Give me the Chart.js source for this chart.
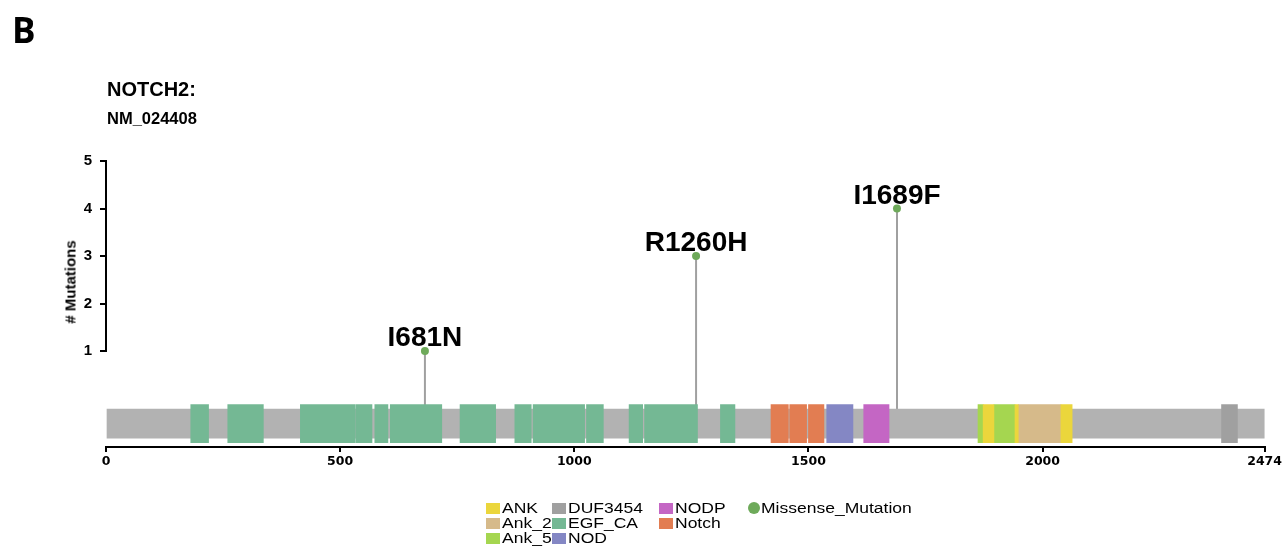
<!DOCTYPE html>
<html><head><meta charset="utf-8">
<script src="https://cdn.jsdelivr.net/npm/chart.js@4"></script>
<style>
html,body{margin:0;padding:0;background:#fff;}
#wrap{position:relative;width:1284px;height:551px;overflow:hidden;background:#fff;}
#c{position:absolute;left:0;top:0;}
.t{position:absolute;white-space:nowrap;color:#000;}
.lg{position:absolute;height:15px;white-space:nowrap;}
.lg .sw{position:absolute;left:0;top:2px;width:14px;height:11px;}
.lg .tx{position:absolute;left:16px;top:0;font:400 14px/15px "Liberation Sans",Arial,sans-serif;color:#000;transform:scaleX(1.25);transform-origin:0 0;}
</style></head><body>
<div id="wrap">
<canvas id="c" width="1284" height="551"></canvas>
<div class="t" style="left:12px;top:12px;font:700 35px/1 'Open Sans',sans-serif;">B</div>
<div class="t" style="left:107px;top:79px;font:700 20px/1 'Liberation Sans',Arial,sans-serif;">NOTCH2:</div>
<div class="t" style="left:107px;top:110px;font:700 16.5px/1 'Liberation Sans',Arial,sans-serif;">NM_024408</div>
<div class="t" style="left:69.5px;top:282px;font:700 15px/1 'Liberation Sans',Arial,sans-serif;transform:translate(-50%,-50%) rotate(-90deg);"># Mutations</div>
<div id="legend"></div>
</div>
<script>
// ---- data ----
const PROTEIN_LEN = 2474;
const xTicks = [0, 500, 1000, 1500, 2000, 2474];
const yTicks = [1, 2, 3, 4, 5];
const mutLabels = ['I681N', 'R1260H', 'I1689F'];
const mutPos = [681, 1260, 1689];
const mutCount = [1, 3, 4];

const domainNames = ['ANK', 'Ank_2', 'Ank_5', 'DUF3454', 'EGF_CA', 'NOD', 'NODP', 'Notch'];
const domainColors = ['#ebd63c', '#d6ba8a', '#a5d650', '#a0a0a0', '#74b894', '#8487c4', '#c466c4', '#e27d52'];
const ANK_ranges = [[1873, 1896], [1941, 1948], [2039, 2063]];
const Ank_2_ranges = [[1948, 2039]];
const Ank_5_ranges = [[1862, 1873], [1896, 1941]];
const DUF3454_ranges = [[2382, 2416]];
const EGF_CA_ranges = [[181, 219], [260, 336], [415, 531], [533, 568], [574, 602], [607, 717], [756, 832],
  [873, 908], [912, 1022], [1026, 1062], [1117, 1146], [1150, 1263], [1312, 1343]];
const NOD_ranges = [[1539, 1595]];
const NODP_ranges = [[1618, 1672]];
const Notch_ranges = [[1420, 1457], [1460, 1496], [1500, 1533]];
const domainRanges = [ANK_ranges, Ank_2_ranges, Ank_5_ranges, DUF3454_ranges, EGF_CA_ranges, NOD_ranges, NODP_ranges, Notch_ranges];

// ---- layout constants ----
const TRACK_Y = -0.53;
const STEM_BASE = -0.4;
const Y_MIN = -1.021;

const datasets = [];
datasets.push({
  type: 'scatter', label: 'Missense_Mutation', order: 0,
  data: mutPos.map((p, i) => ({x: p, y: mutCount[i]})),
  pointRadius: 4, pointHoverRadius: 4, backgroundColor: '#6eaa5a', borderWidth: 0
});
domainNames.forEach((n, k) => {
  datasets.push({
    type: 'bar', label: n, order: 1, indexAxis: 'y', grouped: false,
    data: domainRanges[k].map(r => ({x: r, y: TRACK_Y})),
    backgroundColor: domainColors[k], borderWidth: 0,
    barThickness: 38, maxBarThickness: 38
  });
});
datasets.push({
  type: 'bar', label: 'backbone', order: 2, indexAxis: 'y', grouped: false,
  data: [{x: [0, PROTEIN_LEN], y: TRACK_Y}],
  backgroundColor: '#b2b2b2', borderWidth: 0, barThickness: 29, maxBarThickness: 29
});
datasets.push({
  type: 'line', label: 'stems', order: 3,
  data: mutPos.flatMap((p, i) => [{x: p, y: STEM_BASE}, {x: p, y: mutCount[i]}, {x: p, y: null}]),
  borderColor: '#a0a0a0', borderWidth: 2, pointRadius: 0, spanGaps: false, fill: false
});

const extras = {
  id: 'extras',
  afterDraw(chart) {
    const ctx = chart.ctx, xs = chart.scales.x, ys = chart.scales.y;
    const x0 = chart.chartArea.left;
    ctx.save();
    ctx.strokeStyle = '#000'; ctx.lineWidth = 2;
    ctx.beginPath();
    ctx.moveTo(x0, ys.getPixelForValue(yTicks[0]) + 1);
    ctx.lineTo(x0, ys.getPixelForValue(yTicks[yTicks.length - 1]) - 1);
    ctx.stroke();
    ctx.fillStyle = '#000';
    ctx.font = '700 28px "Liberation Sans", Arial, sans-serif';
    ctx.textAlign = 'center'; ctx.textBaseline = 'alphabetic';
    mutLabels.forEach((t, i) => {
      ctx.fillText(t, xs.getPixelForValue(mutPos[i]), ys.getPixelForValue(mutCount[i]) - 5);
    });
    ctx.restore();
  }
};

new Chart(document.getElementById('c'), {
  type: 'bar',
  data: {datasets},
  options: {
    responsive: false, animation: false, events: [],
    layout: {padding: {left: 66, right: 17, top: 161, bottom: 74}},
    plugins: {legend: {display: false}, tooltip: {enabled: false}},
    scales: {
      x: {
        type: 'linear', position: 'bottom', min: 0, max: PROTEIN_LEN, offset: false,
        afterBuildTicks: s => { s.ticks = xTicks.map(v => ({value: v})); },
        afterFit: s => { s.height = 30; },
        border: {display: true, color: '#000', width: 2},
        grid: {display: true, offset: false, drawOnChartArea: false, drawTicks: true, tickLength: 5, color: '#000', lineWidth: 2},
        ticks: {autoSkip: false, maxRotation: 0, padding: 2, color: '#000',
          callback: v => String(v),
          font: {family: '"DejaVu Sans", sans-serif', weight: 'bold', size: 12.5}}
      },
      y: {
        type: 'linear', position: 'left', min: Y_MIN, max: 5, offset: false,
        afterBuildTicks: s => { s.ticks = yTicks.map(v => ({value: v})); },
        afterFit: s => { s.width = 40; },
        border: {display: false},
        grid: {display: true, offset: false, drawOnChartArea: false, drawTicks: true, tickLength: 6, color: '#000', lineWidth: 2},
        ticks: {padding: 8, color: '#000',
          callback: v => String(v),
          font: {family: '"Liberation Sans", Arial, sans-serif', weight: 'bold', size: 15}}
      }
    }
  },
  plugins: [extras]
});

// ---- HTML legend built from the domain arrays ----
const legend = document.getElementById('legend');
const colX = [486, 552, 659];
const rowTop = 501;
const rowH = 15;
domainNames.forEach((n, k) => {
  const col = Math.floor(k / 3), row = k % 3;
  const d = document.createElement('div');
  d.className = 'lg';
  d.style.left = colX[col] + 'px';
  d.style.top = (rowTop + row * rowH) + 'px';
  d.innerHTML = '<span class="sw" style="background:' + domainColors[k] + '"></span><span class="tx">' + n + '</span>';
  legend.appendChild(d);
});
const m = document.createElement('div');
m.className = 'lg';
m.style.left = '748px'; m.style.top = rowTop + 'px';
m.innerHTML = '<span class="sw" style="background:#6eaa5a;border-radius:50%;width:12px;height:12px;top:1px"></span><span class="tx" style="left:13px">Missense_Mutation</span>';
legend.appendChild(m);
</script>
</body></html>
